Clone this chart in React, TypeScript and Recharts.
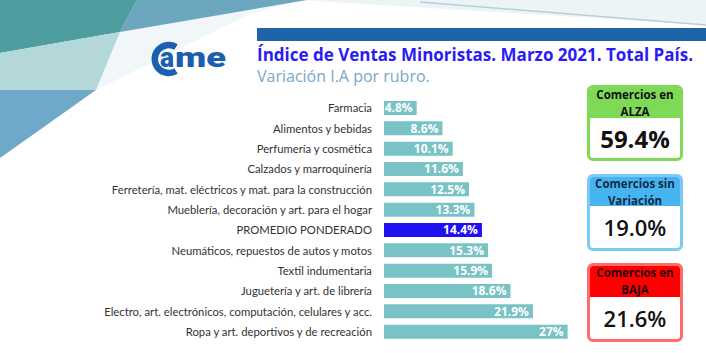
import { BarChart, Bar, XAxis, YAxis, Cell, LabelList } from "recharts"

const rubros = [
  "Farmacia",
  "Alimentos y bebidas",
  "Perfumería y cosmética",
  "Calzados y marroquinería",
  "Ferretería, mat. eléctricos y mat. para la construcción",
  "Mueblería, decoración y art. para el hogar",
  "PROMEDIO PONDERADO",
  "Neumáticos, repuestos de autos y motos",
  "Textil indumentaria",
  "Juguetería y art. de librería",
  "Electro, art. electrónicos, computación, celulares y acc.",
  "Ropa y art. deportivos y de recreación",
]

const variacion = [4.8, 8.6, 10.1, 11.6, 12.5, 13.3, 14.4, 15.3, 15.9, 18.6, 21.9, 27]

const cajas = [
  { titulo: ["Comercios en", "ALZA"], valor: "59.4%" },
  { titulo: ["Comercios sin", "Variación"], valor: "19.0%" },
  { titulo: ["Comercios en", "BAJA"], valor: "21.6%" },
]

const data = rubros.map((rubro, i) => ({ rubro, value: variacion[i] }))

const boxStyles = [
  { top: 85, height: 76, head: 33, border: "#7ED957", bg: "#7ED957", color: "#111", size: 24, weight: 700 },
  { top: 174, height: 77, head: 32, border: "#7CC8F7", bg: "#47B4F2", color: "#0f2a44", size: 22, weight: 600 },
  { top: 263, height: 79, head: 34, border: "#FF6B6B", bg: "#FF0000", color: "#2a0000", size: 22, weight: 600 },
]

function Fondo() {
  return (
    <svg width={706} height={353} style={{ position: "absolute", left: 0, top: 0 }}>
      <polygon points="300,0 706,0 706,25" fill="#EDF4F6" />
      <line x1={420} y1={2} x2={706} y2={25} stroke="#B7CFDA" strokeWidth={1.5} />
      <polygon points="120,32 300,0 250,14 96,90" fill="#F1F7F9" />
      <polygon points="137,0 307,0 120,32" fill="#6CA6BF" />
      <polygon points="0,0 137,0 120,32 0,53" fill="#4E9E9F" />
      <polygon points="0,53 120,32 96,90 0,90" fill="#B4D8DA" />
      <polygon points="0,90 96,90 0,158" fill="#6FA8C8" />
      <rect x={257} y={28} width={449} height={13} fill="#1F63A8" />
      {/* logo came */}
      <path d="M 176 47 A 14 14 0 1 0 176 71" fill="none" stroke="#1B5FAE" strokeWidth={6.5} />
      <text x={160} y={67} textLength={14} lengthAdjust="spacingAndGlyphs" fontFamily="Roboto, sans-serif" fontWeight={900} fontSize={28} fill="#1B5FAE">
        a
      </text>
      <text x={175} y={67} textLength={51} lengthAdjust="spacingAndGlyphs" fontFamily="Roboto, sans-serif" fontWeight={900} fontSize={28} fill="#1B5FAE">
        me
      </text>
    </svg>
  )
}

export default function App() {
  return (
    <div
      style={{
        position: "fixed",
        left: 0,
        top: 0,
        width: 706,
        height: 353,
        background: "#fff",
        overflow: "hidden",
        fontFamily: "'Open Sans', sans-serif",
      }}
    >
      <Fondo />
      <div
        style={{
          position: "absolute",
          left: 257,
          top: 43,
          fontSize: 17,
          fontWeight: 700,
          color: "#2A1CF2",
          whiteSpace: "nowrap",
        }}
      >
        Índice de Ventas Minoristas. Marzo 2021. Total País.
      </div>
      <div
        style={{
          position: "absolute",
          left: 257,
          top: 65,
          fontSize: 16,
          color: "#7AA7C7",
          whiteSpace: "nowrap",
        }}
      >
        Variación I.A por rubro.
      </div>

      <div style={{ position: "absolute", left: 0, top: 0 }}>
        <BarChart
          width={600}
          height={353}
          data={data}
          layout="vertical"
          margin={{ top: 98, right: 12, bottom: 11, left: 0 }}
        >
          <XAxis type="number" domain={[0, 30]} hide />
          <YAxis
            type="category"
            dataKey="rubro"
            width={384}
            axisLine={false}
            tickLine={false}
            tickSize={0}
            tickMargin={12}
            interval={0}
            tick={{ fill: "#333", fontSize: 11.3, fontFamily: "Lato, sans-serif" }}
          />
          <Bar dataKey="value" barSize={14} isAnimationActive={false}>
            {data.map((d) => (
              <Cell key={d.rubro} fill={d.rubro === "PROMEDIO PONDERADO" ? "#2010F0" : "#79C2C5"} />
            ))}
            <LabelList
              dataKey="value"
              position="insideRight"
              offset={4}
              fill="#fff"
              fontSize={12}
              fontWeight={700}
              fontFamily="'Open Sans', sans-serif"
              formatter={(v: number) => `${v}%`}
            />
          </Bar>
        </BarChart>
      </div>

      {cajas.map((c, i) => {
        const s = boxStyles[i]
        return (
          <div
            key={c.valor}
            style={{
              position: "absolute",
              left: 587,
              top: s.top,
              width: 96,
              height: s.height,
              boxSizing: "border-box",
              border: `3px solid ${s.border}`,
              borderRadius: 6,
              overflow: "hidden",
              background: "#fff",
            }}
          >
            <div
              style={{
                height: s.head - 3,
                background: s.bg,
                color: s.color,
                fontSize: 11.5,
                fontWeight: 700,
                lineHeight: "17px",
                textAlign: "center",
                boxSizing: "border-box",
              }}
            >
              <div style={{ position: "relative", top: -2 }}>
                {c.titulo[0]}
                <br />
                {c.titulo[1]}
              </div>
            </div>
            <div
              style={{
                height: s.height - s.head - 3,
                display: "flex",
                alignItems: "center",
                justifyContent: "center",
                fontSize: s.size,
                fontWeight: s.weight,
                color: "#111",
              }}
            >
              {c.valor}
            </div>
          </div>
        )
      })}
    </div>
  )
}
